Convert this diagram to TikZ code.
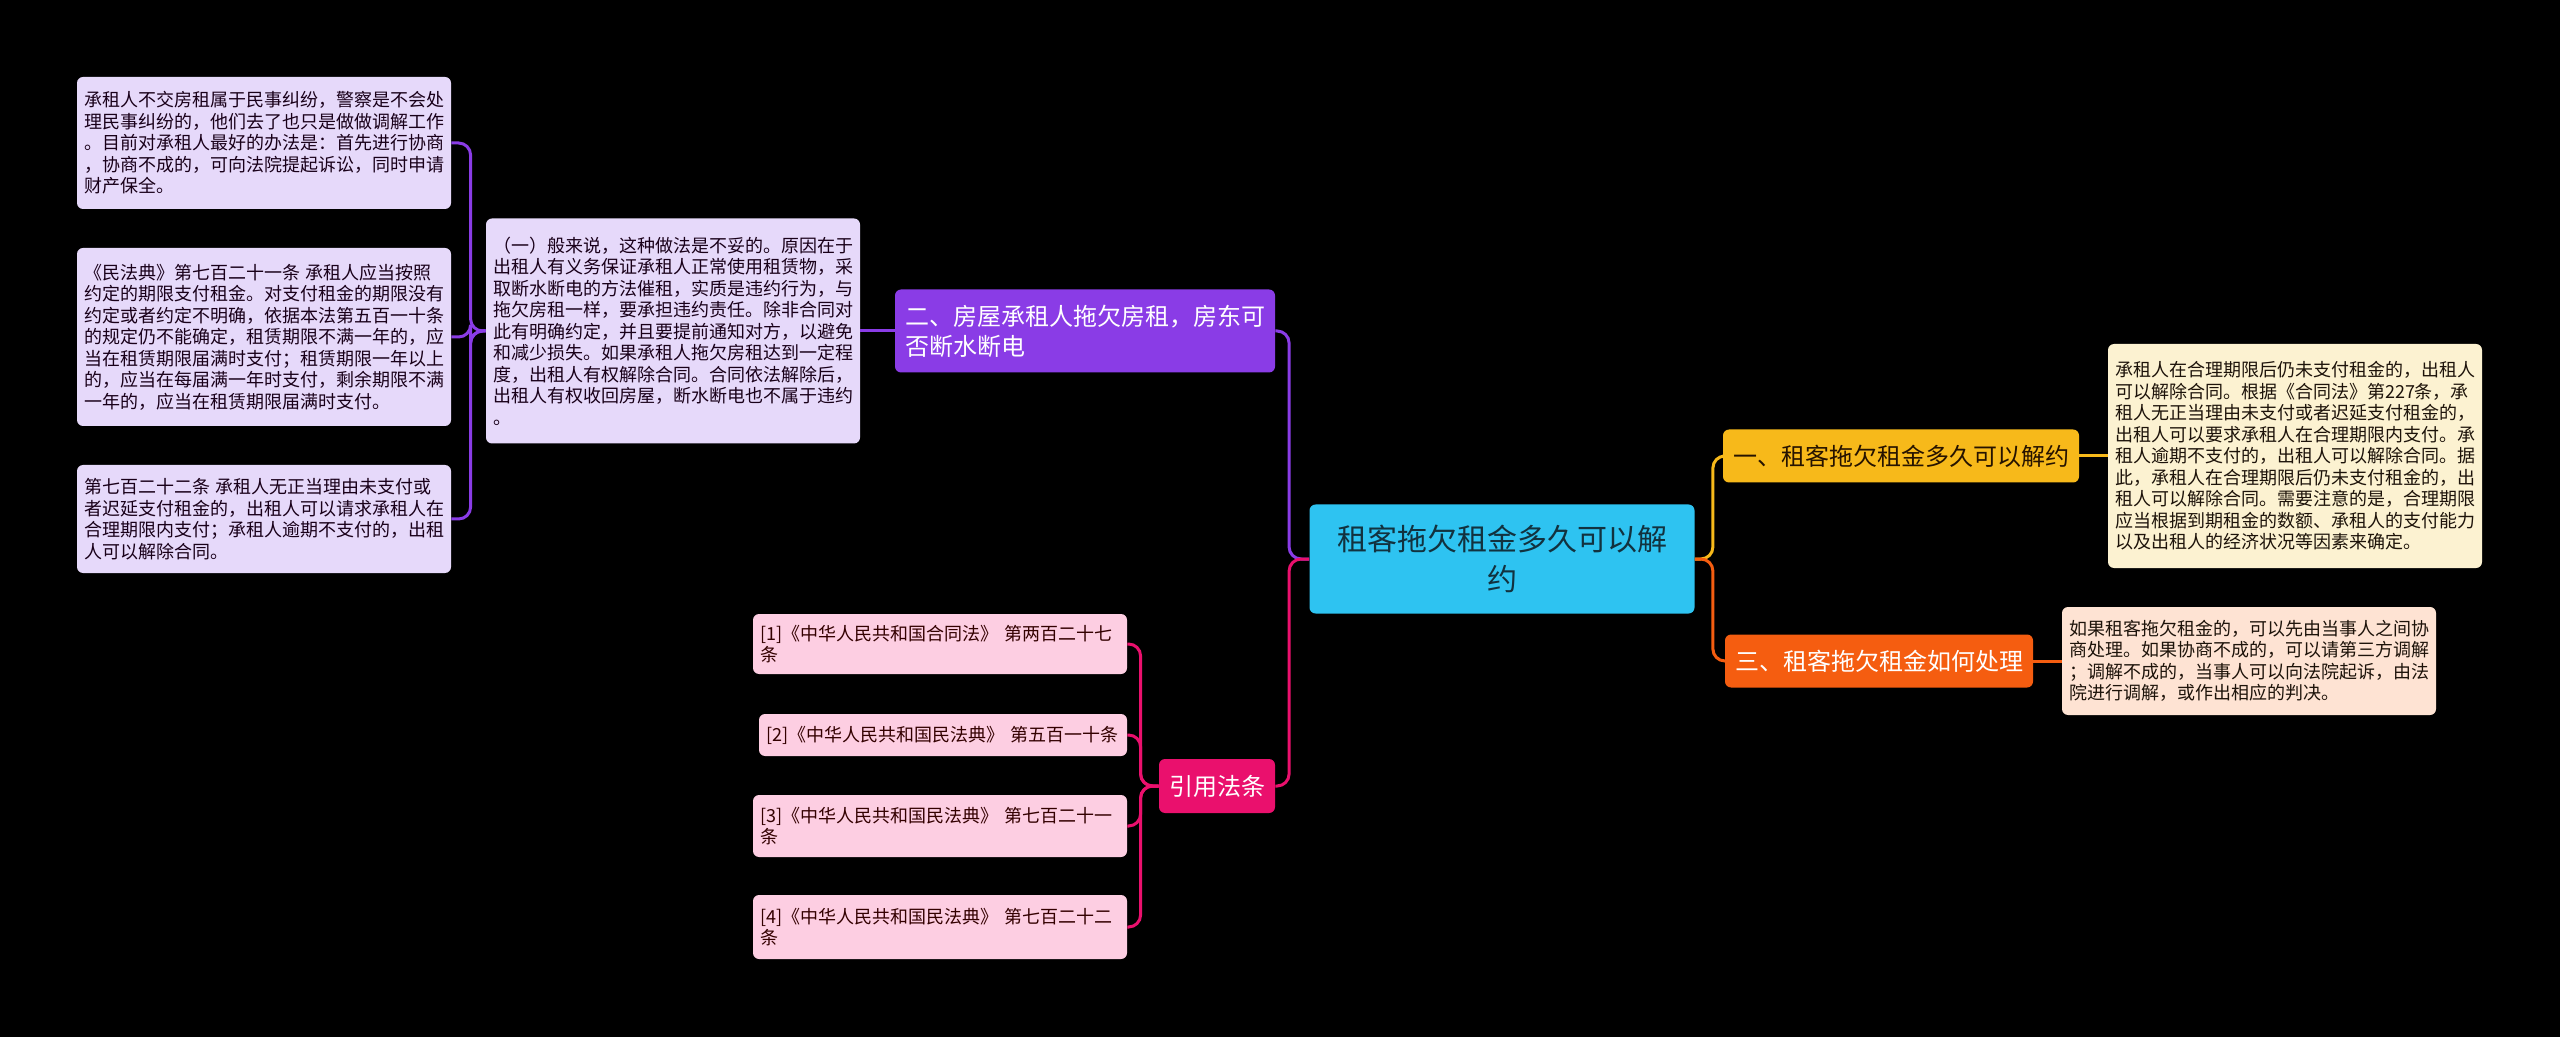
\documentclass[tikz,border=0pt]{standalone}
\usepackage{fontspec}
\newfontfamily\cjkfont{Noto Sans CJK SC}
\usepackage{tikz}
\usetikzlibrary{backgrounds}
\usepackage{xcolor}

\definecolor{rootcyan}{HTML}{2EC3F1}
\definecolor{roottext}{HTML}{12323F}
\definecolor{topicyellow}{HTML}{F7B91A}
\definecolor{topicorange}{HTML}{F55D10}
\definecolor{topicpurple}{HTML}{8A3CE6}
\definecolor{topicpink}{HTML}{EA106D}
\definecolor{notecream}{HTML}{FCF2D1}
\definecolor{notepeach}{HTML}{FEE3D3}
\definecolor{notelav}{HTML}{E6D9FA}
\definecolor{notepink}{HTML}{FDCEE2}

\begin{document}
\begin{tikzpicture}[
    x=0.5pt, y=-0.5pt,
    rootbox/.style={rectangle, rounded corners=3pt, fill=rootcyan, text=roottext,
                    font={\cjkfont\fontsize{15}{20}\selectfont}, align=center,
                    minimum width=192.5pt, minimum height=54.5pt, inner sep=3pt},
    topicbox/.style={rectangle, rounded corners=3pt, text=white,
                     font={\cjkfont\fontsize{12}{15}\selectfont},
                     minimum height=26.5pt, inner xsep=5pt, inner ysep=3pt},
    notebox/.style={rectangle, rounded corners=3pt, text width=180pt, align=left,
                    font={\cjkfont\fontsize{9}{10.75}\selectfont},
                    inner xsep=3.5pt, inner ysep=3pt},
    lavnote/.style={notebox, fill=notelav, text=black!80!violet},
    refnote/.style={notebox, fill=notepink, text=black!80!red},
    link/.style={line width=1.5pt, rounded corners=6pt},
]
  % ---- root ----
  \node[rootbox] (root) at (1502, 559) {租客拖欠租金多久可以解\\约};

  % ---- right branches ----
  \node[topicbox, fill=topicyellow, text=black!85!orange, minimum width=171.5pt]
    (n1) at (1901, 456) {一、租客拖欠租金多久可以解约};
  \node[topicbox, fill=topicorange, minimum width=149pt]
    (n3) at (1879, 661) {三、租客拖欠租金如何处理};

  \node[notebox, fill=notecream, text=black!85!brown, minimum height=112pt]
    (d1) at (2295, 456) {承租人在合理期限后仍未支付租金的，出租人\\
    可以解除合同。根据《合同法》第227条，承\\
    租人无正当理由未支付或者迟延支付租金的，\\
    出租人可以要求承租人在合理期限内支付。承\\
    租人逾期不支付的，出租人可以解除合同。据\\
    此，承租人在合理期限后仍未支付租金的，出\\
    租人可以解除合同。需要注意的是，合理期限\\
    应当根据到期租金的数额、承租人的支付能力\\
    以及出租人的经济状况等因素来确定。};
  \node[notebox, fill=notepeach, text=black!85!brown, minimum height=54pt]
    (d3) at (2249, 661) {如果租客拖欠租金的，可以先由当事人之间协\\
    商处理。如果协商不成的，可以请第三方调解\\
    ；调解不成的，当事人可以向法院起诉，由法\\
    院进行调解，或作出相应的判决。};

  % ---- left branch: 二 ----
  \node[topicbox, fill=topicpurple, text width=180pt, align=left, minimum height=41.5pt]
    (n2) at (1085, 331) {二、房屋承租人拖欠房租，房东可\\否断水断电};
  \node[lavnote, minimum height=112.5pt] (m2) at (673, 331)
    {（一）般来说，这种做法是不妥的。原因在于\\
    出租人有义务保证承租人正常使用租赁物，采\\
    取断水断电的方法催租，实质是违约行为，与\\
    拖欠房租一样，要承担违约责任。除非合同对\\
    此有明确约定，并且要提前通知对方，以避免\\
    和减少损失。如果承租人拖欠房租达到一定程\\
    度，出租人有权解除合同。合同依法解除后，\\
    出租人有权收回房屋，断水断电也不属于违约\\
    。};

  \node[lavnote, minimum height=66pt] (la) at (264, 143)
    {承租人不交房租属于民事纠纷，警察是不会处\\
    理民事纠纷的，他们去了也只是做做调解工作\\
    。目前对承租人最好的办法是：首先进行协商\\
    ，协商不成的，可向法院提起诉讼，同时申请\\
    财产保全。};
  \node[lavnote, minimum height=89pt] (lb) at (264, 337)
    {《民法典》第七百二十一条 承租人应当按照\\
    约定的期限支付租金。对支付租金的期限没有\\
    约定或者约定不明确，依据本法第五百一十条\\
    的规定仍不能确定，租赁期限不满一年的，应\\
    当在租赁期限届满时支付；租赁期限一年以上\\
    的，应当在每届满一年时支付，剩余期限不满\\
    一年的，应当在租赁期限届满时支付。};
  \node[lavnote, minimum height=54pt] (lc) at (264, 519)
    {第七百二十二条 承租人无正当理由未支付或\\
    者迟延支付租金的，出租人可以请求承租人在\\
    合理期限内支付；承租人逾期不支付的，出租\\
    人可以解除合同。};

  % ---- left branch: 引用法条 ----
  \node[topicbox, fill=topicpink, minimum width=56.5pt, minimum height=27pt]
    (ref) at (1217, 786) {引用法条};
  \node[refnote, minimum height=30pt] (r1) at (940, 644)
    {[1]《中华人民共和国合同法》 第两百二十七\\条};
  \node[refnote, text width=177pt, minimum height=21pt] (r2) at (943, 735)
    {[2]《中华人民共和国民法典》 第五百一十条};
  \node[refnote, minimum height=31pt] (r3) at (940, 826)
    {[3]《中华人民共和国民法典》 第七百二十一\\条};
  \node[refnote, minimum height=32pt] (r4) at (940, 927)
    {[4]《中华人民共和国民法典》 第七百二十二\\条};

  % ---- connectors ----
  \draw[link, topicpurple] (root.west) -- ++(-20,0) |- (n2.east);
  \draw[link, topicpink]   (root.west) -- ++(-20,0) |- (ref.east);
  \draw[link, topicyellow] (root.east) -- ++(18,0) |- (n1.west);
  \draw[link, topicorange] (root.east) -- ++(18,0) |- (n3.west);

  \draw[link, topicyellow] (n1.east) -- (d1.west);
  \draw[link, topicorange] (n3.east) -- (d3.west);
  \draw[link, topicpurple] (n2.west) -- (m2.east);

  \foreach \leaf in {la, lb, lc}
    \draw[link, topicpurple] (m2.west) -- ++(-15,0) |- (\leaf.east);
  \foreach \leaf in {r1, r2, r3, r4}
    \draw[link, topicpink] (ref.west) -- ++(-18,0) |- (\leaf.east);

  % ---- background ----
  \begin{scope}[on background layer]
    \fill[black] (0,0) rectangle (2560,1037);
  \end{scope}
\end{tikzpicture}
\end{document}
